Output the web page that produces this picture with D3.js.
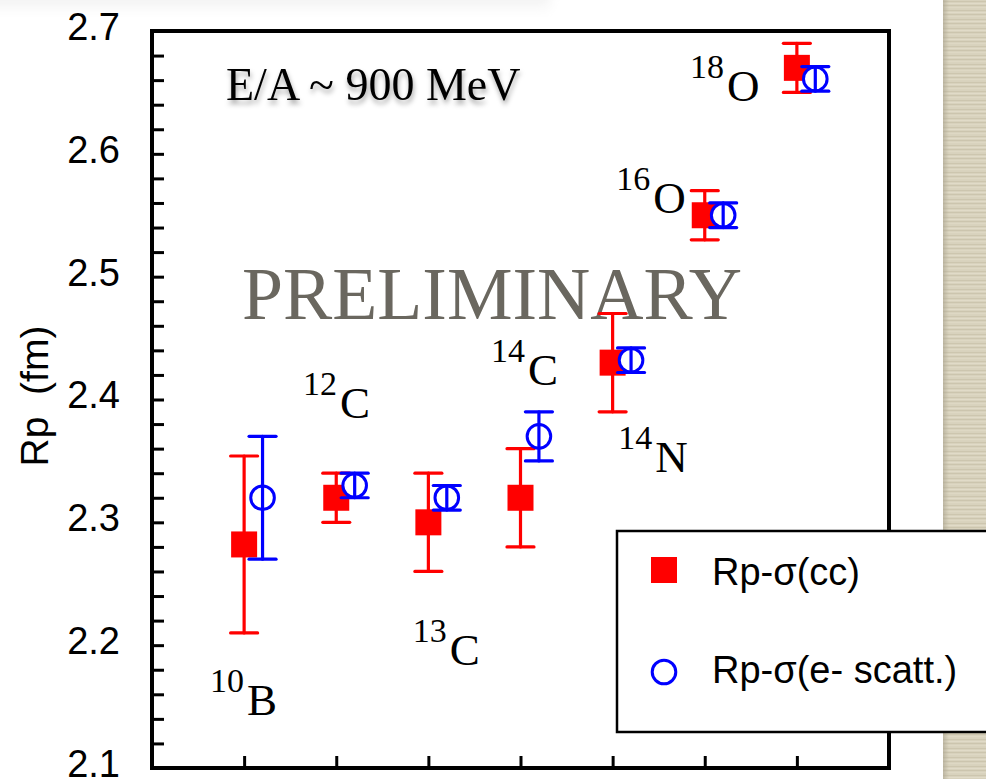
<!DOCTYPE html>
<html>
<head>
<meta charset="utf-8">
<script src="https://cdn.jsdelivr.net/npm/d3@7/dist/d3.min.js"></script>
<style>
  html, body { margin: 0; padding: 0; background: #fff; overflow: hidden; }
  svg { display: block; }
</style>
</head>
<body>
<svg id="chart" width="986" height="779"></svg>
<script>
// Proton radii of light nuclei at E/A ~ 900 MeV
const massNumbers = ["10", "12", "13", "14", "14", "16", "18"];
const elements    = ["B", "C", "C", "C", "N", "O", "O"];
const rpCC        = [2.282, 2.320, 2.300, 2.320, 2.430, 2.550, 2.670];
const errCC       = [0.072, 0.020, 0.040, 0.040, 0.040, 0.020, 0.020];
const rpEScatt    = [2.320, 2.330, 2.320, 2.370, 2.432, 2.550, 2.661];
const errEScatt   = [0.050, 0.010, 0.010, 0.020, 0.010, 0.010, 0.010];
const yTickLabels = [2.1, 2.2, 2.3, 2.4, 2.5, 2.6, 2.7];
const seriesNames = ["Rp-σ(cc)", "Rp-σ(e- scatt.)"];

// where each isotope name sits (x in nucleus slots, y in fm)
const isotopeLabelAt = [
  [0.63, 2.143], [1.64, 2.385], [2.83, 2.184], [3.68, 2.412],
  [5.06, 2.341], [5.04, 2.552], [5.84, 2.643]
];

const W = 986, H = 779;
const plot = { left: 152, right: 889, top: 31, bottom: 768 };

const svg = d3.select("#chart");
const defs = svg.append("defs");

// soft shadow under the energy caption
const shadow = defs.append("filter").attr("id", "shadow")
  .attr("x", "-10%").attr("y", "-30%").attr("width", "120%").attr("height", "180%");
shadow.append("feDropShadow").attr("dx", 1).attr("dy", 4)
  .attr("stdDeviation", 2.5).attr("flood-color", "#000").attr("flood-opacity", 0.35);

// linen strip on the right
const linen = defs.append("pattern").attr("id", "linen")
  .attr("patternUnits", "userSpaceOnUse").attr("width", 43).attr("height", 9);
linen.append("rect").attr("width", 43).attr("height", 9).attr("fill", "#d8d2bd");
[["#cdc6af", 1, 1], ["#e1dbc8", 3, 1], ["#c9c2ab", 5, 0.8], ["#ded8c4", 7, 1.2]].forEach(([c, y, h]) =>
  linen.append("rect").attr("x", 0).attr("y", y).attr("width", 43).attr("height", h).attr("fill", c));
const edge = defs.append("linearGradient").attr("id", "edge");
edge.append("stop").attr("offset", "0%").attr("stop-color", "#a9a28e").attr("stop-opacity", 0.6);
edge.append("stop").attr("offset", "100%").attr("stop-color", "#a9a28e").attr("stop-opacity", 0);

const topBand = defs.append("linearGradient").attr("id", "topBand").attr("x2", 0).attr("y2", 1);
topBand.append("stop").attr("offset", "0%").attr("stop-color", "#ececec");
topBand.append("stop").attr("offset", "100%").attr("stop-color", "#ffffff");
const bandBlur = defs.append("filter").attr("id", "bandBlur");
bandBlur.append("feGaussianBlur").attr("stdDeviation", 6);

svg.append("rect").attr("width", W).attr("height", H).attr("fill", "#fff");
svg.append("rect").attr("x", -20).attr("y", -10).attr("width", 570).attr("height", 24)
  .attr("fill", "url(#topBand)").attr("filter", "url(#bandBlur)");
svg.append("rect").attr("x", 943).attr("y", 0).attr("width", 43).attr("height", H).attr("fill", "url(#linen)");
svg.append("rect").attr("x", 943).attr("y", 0).attr("width", 6).attr("height", H).attr("fill", "url(#edge)");

const x = d3.scaleLinear().domain([0, 8]).range([plot.left, plot.right]);
const y = d3.scaleLinear().domain([2.1, 2.7]).range([plot.bottom, plot.top]);

// left axis: minor ticks every 0.02 pointing inward, labels every 0.1
const minor = d3.range(0, 31).map(i => +(2.1 + i * 0.02).toFixed(2));
svg.append("g").attr("transform", `translate(${plot.left},0)`)
  .call(d3.axisLeft(y).tickValues(minor).tickSize(-12).tickFormat(""))
  .call(g => g.select(".domain").remove())
  .call(g => g.selectAll("line").attr("stroke", "#000").attr("stroke-width", 3));

svg.append("g").attr("transform", `translate(${plot.left},0)`)
  .call(d3.axisLeft(y).tickValues(yTickLabels).tickSize(0).tickPadding(32).tickFormat(d3.format(".1f")))
  .call(g => g.select(".domain").remove())
  .call(g => g.selectAll("text")
    .attr("font-family", "'Liberation Sans', Arial, Helvetica, sans-serif")
    .attr("font-size", 38).attr("fill", "#000").attr("dy", "0.22em"));

// bottom axis: one tick per nucleus, no labels
svg.append("g").attr("transform", `translate(0,${plot.bottom})`)
  .call(d3.axisTop(x).tickValues(d3.range(1, massNumbers.length + 1)).tickSize(12).tickFormat(""))
  .call(g => g.select(".domain").remove())
  .call(g => g.selectAll("line").attr("stroke", "#000").attr("stroke-width", 3));

// frame
svg.append("rect")
  .attr("x", plot.left).attr("y", plot.top)
  .attr("width", plot.right - plot.left).attr("height", plot.bottom - plot.top)
  .attr("fill", "none").attr("stroke", "#000").attr("stroke-width", 4);

// y axis title
svg.append("text")
  .attr("transform", `translate(48,396) rotate(-90)`)
  .attr("text-anchor", "middle")
  .attr("font-family", "'Liberation Sans', Arial, Helvetica, sans-serif")
  .attr("font-size", 39).attr("fill", "#000")
  .style("white-space", "pre")
  .text("Rp  (fm)");

// captions
svg.append("text")
  .attr("x", 226).attr("y", 100)
  .attr("font-family", "'Liberation Serif', 'Times New Roman', serif")
  .attr("font-size", 46).attr("fill", "#000")
  .attr("filter", "url(#shadow)")
  .text("E/A ~ 900 MeV");

svg.append("text")
  .attr("x", 242).attr("y", 319)
  .attr("font-family", "'Liberation Serif', 'Times New Roman', serif")
  .attr("font-size", 75).attr("fill", "#6a675f")
  .attr("textLength", 500).attr("lengthAdjust", "spacingAndGlyphs")
  .text("PRELIMINARY");

// isotope names
const isoLabels = svg.append("g")
  .attr("font-family", "'Liberation Serif', 'Times New Roman', serif")
  .attr("fill", "#000");
massNumbers.forEach((a, i) => {
  const t = isoLabels.append("text")
    .attr("x", x(isotopeLabelAt[i][0])).attr("y", y(isotopeLabelAt[i][1]));
  t.append("tspan").attr("font-size", 34).attr("dy", -23).text(a);
  t.append("tspan").attr("font-size", 45).attr("dy", 23).attr("dx", 3).text(elements[i]);
});

const slots = d3.range(1, massNumbers.length + 1);
const shift = 0.2;   // e- scattering points sit just right of the cc points
const capHalf = 13.5;

function errorBars(g, xs, vals, errs, color) {
  g.selectAll(null).data(vals).join("g").each(function (v, i) {
    const s = d3.select(this), cx = x(xs[i]);
    s.append("line").attr("x1", cx).attr("x2", cx)
      .attr("y1", y(v - errs[i])).attr("y2", y(v + errs[i]));
    [v - errs[i], v + errs[i]].forEach(e =>
      s.append("line").attr("x1", cx - capHalf).attr("x2", cx + capHalf)
        .attr("y1", y(e)).attr("y2", y(e)));
  }).attr("stroke", color).attr("stroke-width", 3.2).attr("stroke-linecap", "round");
}

// charge-changing cross-section series
const gCC = svg.append("g");
errorBars(gCC, slots, rpCC, errCC, "#ff0000");
gCC.selectAll("rect").data(rpCC).join("rect")
  .attr("x", (d, i) => x(slots[i]) - 13).attr("y", d => y(d) - 13)
  .attr("width", 26).attr("height", 26).attr("fill", "#ff0000");

// electron scattering series
const eSlots = slots.map(s => s + shift);
const gE = svg.append("g");
gE.selectAll("circle").data(rpEScatt).join("circle")
  .attr("cx", (d, i) => x(eSlots[i])).attr("cy", d => y(d)).attr("r", 11.8)
  .attr("fill", "#fff").attr("stroke", "#0000ff").attr("stroke-width", 3);
errorBars(gE, eSlots, rpEScatt, errEScatt, "#0000ff");

// legend
const lg = svg.append("g");
lg.append("rect").attr("x", 617).attr("y", 531).attr("width", 400).attr("height", 201)
  .attr("fill", "#fff").attr("stroke", "#000").attr("stroke-width", 2.5);
lg.append("rect").attr("x", 651).attr("y", 557).attr("width", 26).attr("height", 26).attr("fill", "#ff0000");
lg.append("circle").attr("cx", 664).attr("cy", 672).attr("r", 11.8)
  .attr("fill", "#fff").attr("stroke", "#0000ff").attr("stroke-width", 3);
lg.selectAll("text.entry").data(seriesNames).join("text").attr("class", "entry")
  .attr("x", 712).attr("y", (d, i) => i === 0 ? 585 : 683)
  .attr("font-family", "'Liberation Sans', Arial, Helvetica, sans-serif")
  .attr("font-size", 38).attr("fill", "#000")
  .text(d => d);
</script>
</body>
</html>
